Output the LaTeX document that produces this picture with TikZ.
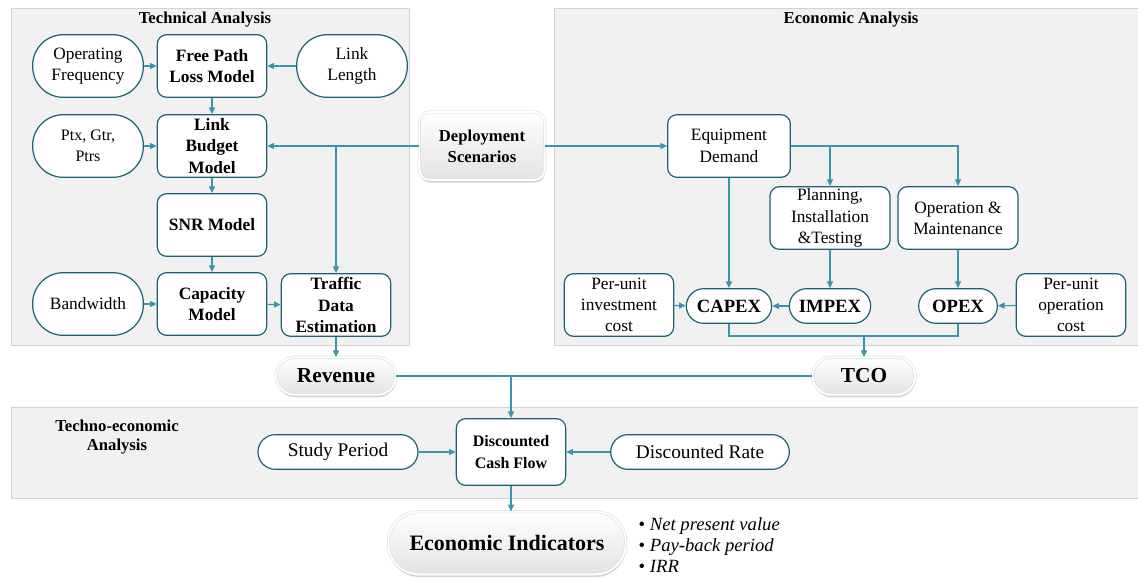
\documentclass[tikz,border=0pt]{standalone}
\usepackage{fontspec}
\setmainfont{Liberation Serif}
\usetikzlibrary{arrows.meta,shadows}
\definecolor{linkcol}{RGB}{58,150,172}
\definecolor{edgecol}{RGB}{28,98,115}
\definecolor{panelcol}{RGB}{241,241,241}

\begin{document}
\begin{tikzpicture}[x=0.75pt, y=-0.75pt,
    >={Triangle[length=5pt,width=4.5pt]},
    panel/.style={draw=gray!35, fill=panelcol, line width=0.6pt},
    title/.style={font=\fontsize{12.5}{14}\selectfont\bfseries, align=center},
    box/.style={draw=edgecol, fill=white, line width=0.9pt, rounded corners=7pt, align=center, inner sep=0pt,
        font=\fontsize{13}{16}\selectfont, minimum width=82pt, minimum height=47pt},
    model/.style={box, font=\fontsize{13}{16}\selectfont\bfseries},
    inbox/.style={box, rounded corners=23pt, minimum width=83pt},
    pill/.style={box, rounded corners=13pt, minimum height=26pt, font=\fontsize{14.5}{17}\selectfont},
    costbox/.style={pill, font=\fontsize{14}{17}\selectfont\bfseries},
    keybox/.style={draw=gray!30, double=white, double distance=1.4pt, top color=white, bottom color=gray!22,
        drop shadow={shadow xshift=0.4pt, shadow yshift=-2pt, opacity=0.35}, align=center, inner sep=0pt},
    link/.style={draw=linkcol, line width=0.8pt, ->},
    wire/.style={draw=linkcol, line width=0.8pt}]

    \useasboundingbox (0,0) rectangle (1138,579);

    % panels
    \draw[panel] (11,8) rectangle (409,345);
    \draw[panel] (554,8) rectangle (1138,345);
    \draw[panel] (11,407) rectangle (1138,498);

    \node[title] (techtitle) at (205,20) {Technical Analysis};
    \node[title] (ecotitle) at (851,20) {Economic Analysis};
    \node[title] (tetitle) at (117,437) {Techno-economic\\Analysis};

    % technical analysis
    \node[inbox] (freq) at (88,66) {Operating\\Frequency};
    \node[model] (fpl) at (212,66) {Free Path\\Loss Model};
    \node[inbox] (length) at (352,66) {Link\\Length};
    \node[inbox, font=\fontsize{12}{16}\selectfont] (ptx) at (88,146) {Ptx, Gtr,\\Ptrs};
    \node[model] (budget) at (212,146) {Link\\Budget\\Model};
    \node[model] (snr) at (212,225) {SNR Model};
    \node[inbox] (bw) at (88,304) {Bandwidth};
    \node[model] (cap) at (212,304) {Capacity\\Model};
    \node[model] (traffic) at (336,305) {Traffic\\Data\\Estimation};

    \node[keybox, minimum width=94pt, minimum height=51pt, rounded corners=8pt,
        font=\fontsize{12.5}{16}\selectfont\bfseries] (deploy) at (482,146) {Deployment\\Scenarios};

    % economic analysis
    \node[box, minimum width=92pt] (equip) at (729,146) {Equipment\\Demand};
    \node[box, minimum width=90pt] (plan) at (830,218) {Planning,\\Installation\\\&Testing};
    \node[box, minimum width=90pt] (om) at (958,218) {Operation \&\\Maintenance};
    \node[box] (invest) at (619,305) {Per-unit\\investment\\cost};
    \node[costbox, minimum width=64pt] (capex) at (729,306) {CAPEX};
    \node[costbox, minimum width=61pt] (impex) at (830,306) {IMPEX};
    \node[costbox, minimum width=59pt] (opex) at (958,306) {OPEX};
    \node[box] (opcost) at (1071,305) {Per-unit\\operation\\cost};

    \node[keybox, minimum width=90pt, minimum height=28pt, rounded corners=14pt,
        font=\fontsize{16}{19}\selectfont\bfseries] (revenue) at (336,376) {Revenue};
    \node[keybox, minimum width=77pt, minimum height=28pt, rounded corners=14pt,
        font=\fontsize{16}{19}\selectfont\bfseries] (tco) at (864,376) {TCO};

    % techno-economic analysis
    \node[pill, minimum width=120pt] (period) at (338,452) {Study Period};
    \node[model, minimum height=50pt, font=\fontsize{12}{16}\selectfont\bfseries] (dcf) at (511,452) {Discounted\\Cash Flow};
    \node[pill, minimum width=134pt] (rate) at (700,452) {Discounted Rate};
    \node[keybox, minimum width=178pt, minimum height=47pt, rounded corners=23pt,
        font=\fontsize{16.5}{20}\selectfont\bfseries] (indicators) at (507,543) {Economic Indicators};
    \node[anchor=west, align=left, font=\fontsize{14}{16}\selectfont\itshape] (list) at (634,545)
        {{\upshape•} Net present value\\{\upshape•} Pay-back period\\{\upshape•} IRR};

    % connectors
    \draw[link] (freq) -- (fpl);
    \draw[link] (length) -- (fpl);
    \draw[link] (fpl) -- (budget);
    \draw[link] (ptx) -- (budget);
    \draw[link] (deploy) -- (budget);
    \coordinate (tap) at (336,146);
    \draw[link] (tap) -- (traffic);
    \draw[link] (budget) -- (snr);
    \draw[link] (snr) -- (cap);
    \draw[link] (bw) -- (cap);
    \draw[link] (cap) -- (traffic);
    \draw[link] (traffic) -- (revenue);

    \draw[link] (deploy) -- (equip);
    \draw[link] (equip.east) -| (om.north);
    \draw[link] (equip.east -| plan.north) -- (plan.north);
    \draw[link] (equip) -- (capex);
    \draw[link] (plan) -- (impex);
    \draw[link] (om) -- (opex);
    \draw[link] (impex) -- (capex);
    \draw[link] (invest) -- (capex);
    \draw[link] (opcost) -- (opex);
    \coordinate (merge) at (864,336);
    \draw[wire] (capex.south) |- (merge) -| (opex.south);
    \draw[link] (merge) -- (tco);

    \coordinate (join) at (511,376);
    \draw[wire] (revenue) -- (join) -- (tco);
    \draw[link] (join) -- (dcf);
    \draw[link] (period) -- (dcf);
    \draw[link] (rate) -- (dcf);
    \draw[link] (dcf.south) -- (dcf.south |- indicators.north);
\end{tikzpicture}
\end{document}
